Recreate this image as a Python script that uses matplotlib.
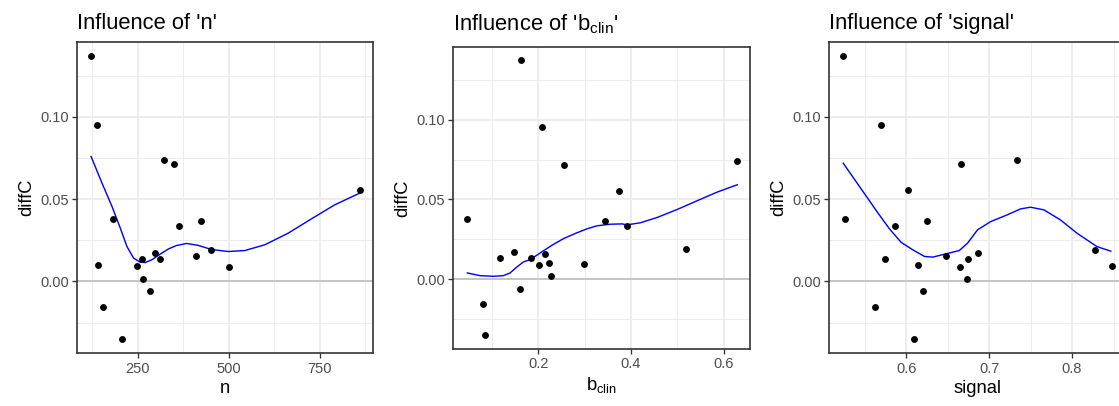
import numpy as np
import matplotlib
matplotlib.use("Agg")
import matplotlib.pyplot as plt

plt.rcParams["font.family"] = ["Liberation Sans", "DejaVu Sans"]
plt.rcParams["mathtext.fontset"] = "custom"
plt.rcParams["mathtext.rm"] = "Liberation Sans"
plt.rcParams["mathtext.it"] = "Liberation Sans:italic"

# Simulation settings and resulting difference in C-statistic
n = [121.4, 138.7, 142.3, 155.1, 183.4, 207.1, 249.0, 261.9, 264.6, 284.7,
     297.4, 310.2, 322.1, 349.5, 365.0, 410.6, 423.4, 452.6, 501.8, 860.4]
b_clin = [0.163, 0.208, 0.223, 0.080, 0.045, 0.085, 0.299, 0.117, 0.226, 0.160,
          0.146, 0.183, 0.628, 0.256, 0.391, 0.213, 0.343, 0.518, 0.201, 0.375]
signal = [0.5234, 0.5695, 0.6136, 0.5627, 0.5259, 0.6092, 0.848, 0.5743, 0.673, 0.620,
          0.687, 0.6741, 0.733, 0.6657, 0.586, 0.648, 0.6253, 0.828, 0.6653, 0.6016]
diffC = [0.1370, 0.0953, 0.0101, -0.0152, 0.0377, -0.0350, 0.0097, 0.0136, 0.0018, -0.0059,
         0.0174, 0.0134, 0.0739, 0.0715, 0.0334, 0.0156, 0.0366, 0.0190, 0.0087, 0.0553]

# Smoothed trend of diffC along each setting
smooth_n_x = [122.3, 152.4, 179.8, 202.6, 220.8, 239.0, 257.3, 271.0, 289.3, 312.1, 334.9,
              357.7, 385.0, 417.0, 453.5, 499.1, 544.7, 599.5, 663.3, 727.2, 791.0, 859.5]
smooth_n_y = [0.0759, 0.0597, 0.0455, 0.0324, 0.0212, 0.0142, 0.0117, 0.0115, 0.0132, 0.0166,
              0.0198, 0.0219, 0.0231, 0.0219, 0.0194, 0.0182, 0.0188, 0.0223, 0.0293, 0.0380,
              0.0465, 0.0536]
smooth_b_x = [0.0462, 0.0737, 0.1025, 0.1242, 0.1386, 0.1531, 0.1675, 0.1820, 0.2036, 0.2289,
              0.2542, 0.2794, 0.3047, 0.3264, 0.3552, 0.3805, 0.3913, 0.4202, 0.4563, 0.4996,
              0.5430, 0.5863, 0.6296]
smooth_b_y = [0.0040, 0.0023, 0.0019, 0.0023, 0.0040, 0.0077, 0.0109, 0.0123, 0.0165, 0.0213,
              0.0255, 0.0287, 0.0316, 0.0335, 0.0345, 0.0347, 0.0341, 0.0354, 0.0387, 0.0437,
              0.0492, 0.0546, 0.0592]
smooth_s_x = [0.524, 0.538, 0.552, 0.566, 0.580, 0.594, 0.608, 0.622, 0.632, 0.648, 0.664,
              0.674, 0.686, 0.702, 0.722, 0.738, 0.750, 0.766, 0.786, 0.806, 0.830, 0.8468]
smooth_s_y = [0.0718, 0.0617, 0.0516, 0.0415, 0.0318, 0.0237, 0.0192, 0.0152, 0.0148, 0.0168,
              0.0188, 0.0233, 0.0314, 0.0364, 0.0405, 0.0441, 0.0451, 0.0435, 0.0374, 0.0293,
              0.0212, 0.0184]

panels = [
    ("n", n, smooth_n_x, smooth_n_y, "Influence of 'n'", "n",
     [250, 500, 750], ["250", "500", "750"], [125, 375, 625, 875]),
    ("b_clin", b_clin, smooth_b_x, smooth_b_y, "Influence of 'b$_{\\mathrm{clin}}$'",
     "b$_{\\mathrm{clin}}$", [0.2, 0.4, 0.6], ["0.2", "0.4", "0.6"], [0.1, 0.3, 0.5]),
    ("signal", signal, smooth_s_x, smooth_s_y, "Influence of 'signal'", "signal",
     [0.6, 0.7, 0.8], ["0.6", "0.7", "0.8"], [0.55, 0.65, 0.75, 0.85]),
]

y_major = [0.00, 0.05, 0.10]
y_labels = ["0.00", "0.05", "0.10"]
y_minor = [-0.025, 0.025, 0.075, 0.125]

W_PX, H_PX, DPI = 1119, 406, 120
fig = plt.figure(figsize=(W_PX / DPI, H_PX / DPI), dpi=DPI)

# panel boxes in pixels: left, top, width, height (last panel runs off the right edge)
boxes = [
    (77.3, 41.7, 296.0, 311.6),
    (453.3, 46.7, 296.7, 302.3),
    (829.3, 41.7, 296.0, 311.6),
]

border = "#333333"
grid_c = "#EBEBEB"

for (key, xv, sx, sy, title, xlabel, xt, xtl, xminor), (l, t, w, h) in zip(panels, boxes):
    ax = fig.add_axes([l / W_PX, (H_PX - t - h) / H_PX, w / W_PX, h / H_PX])
    xa = np.asarray(xv)
    ya = np.asarray(diffC)
    xr = xa.max() - xa.min()
    yr = ya.max() - ya.min()
    ax.set_xlim(xa.min() - 0.05 * xr, xa.max() + 0.05 * xr)
    ax.set_ylim(ya.min() - 0.05 * yr, ya.max() + 0.05 * yr)

    for v in xminor:
        ax.axvline(v, color=grid_c, lw=0.55, zorder=0)
    for v in y_minor:
        ax.axhline(v, color=grid_c, lw=0.55, zorder=0)
    for v in xt:
        ax.axvline(v, color=grid_c, lw=1.05, zorder=0)
    for v in y_major:
        ax.axhline(v, color=grid_c, lw=1.05, zorder=0)

    ax.axhline(0, color="#BEBEBE", lw=1.0, zorder=1)

    ax.scatter(xa, ya, s=17, color="black", linewidths=0, zorder=3)
    ax.plot(sx, sy, color="blue", lw=0.85, zorder=2, solid_joinstyle="round")

    ax.set_xticks(xt)
    ax.set_xticklabels(xtl)
    ax.set_yticks(y_major)
    ax.set_yticklabels(y_labels)
    ax.tick_params(axis="both", length=2.75, width=0.8, color=border,
                   labelcolor="#4D4D4D", labelsize=8.8, pad=2.2)
    for s in ax.spines.values():
        s.set_color(border)
        s.set_linewidth(1.0)
    ax.set_xlabel(xlabel, fontsize=11, labelpad=2.5)
    ax.set_ylabel("diffC", fontsize=11, labelpad=3)
    ax.set_title(title, loc="left", fontsize=13.2, pad=7.5 if key != "b_clin" else 9.5)

fig.savefig("out.png", dpi=DPI)
